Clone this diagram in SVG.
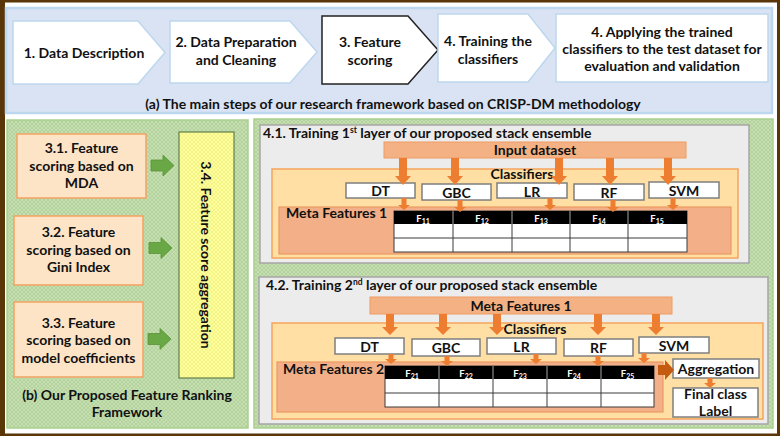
<svg xmlns="http://www.w3.org/2000/svg" xmlns:xlink="http://www.w3.org/1999/xlink" width="780" height="436" viewBox="0 0 780 436">
<defs>
<style>
text{font-family:Lato,"Liberation Sans",sans-serif;font-weight:bold;fill:#111;}
.c{text-anchor:middle;}
.t14{font-size:14px;}
.t13{font-size:13px;}
.chev{fill:#fff;stroke:#bdd7ee;stroke-width:1.5;}
.obox{fill:#fde4c6;stroke:#f4a261;stroke-width:1.5;}
.gray{fill:#ececec;stroke:#a6a6a6;stroke-width:1.5;}
.bar{fill:#f4b183;stroke:#ee9c64;stroke-width:1;}
.cls{fill:#ffdfa3;stroke:#f5a45d;stroke-width:1.5;}
.meta{fill:#f3b088;stroke:#ec9a62;stroke-width:1.2;}
.wbox{fill:#fff;stroke:#7f7f7f;stroke-width:1.5;}
.hdr{fill:#000;}
.cell{fill:#fff;stroke:#3a3a3a;stroke-width:1;}
.ln{stroke:#3a3a3a;stroke-width:1;}
.hl{fill:#fff;font-size:9.5px;}
.arr{fill:#ed7d31;}
.garr{fill:#6aa846;stroke:#5a9238;stroke-width:0.8;}
</style>
<pattern id="gh" width="4" height="4" patternUnits="userSpaceOnUse"><rect width="4" height="4" fill="#c6dfb2"/><path d="M0,4 L4,0 M0,0 L4,4" stroke="#b0cf97" stroke-width="0.8"/></pattern>
<pattern id="yh" width="4" height="4" patternUnits="userSpaceOnUse"><rect width="4" height="4" fill="#ffff9c"/><path d="M0,4 L4,0 M0,0 L4,4" stroke="#eeee80" stroke-width="0.7"/></pattern>
<path id="big1" d="M-4 0 h8 v18 h4 l-8 9 l-8 -9 h4 z"/>
<path id="big2" d="M-4 0 h8 v13 h4 l-8 8 l-8 -8 h4 z"/>
<path id="sm" d="M-2.5 0 h5 v7 h3.5 l-6 5 l-6 -5 h3.5 z"/>
<path id="sm2" d="M-2.5 0 h5 v5 h3.5 l-6 5 l-6 -5 h3.5 z"/>
<path id="garrow" d="M0 -5.5 h12 v-5 l11 10.5 l-11 10.5 v-5 h-12 z"/>
</defs>

<rect x="0" y="0" width="780" height="436" fill="#fff"/>
<rect x="2.5" y="1" width="776" height="434" fill="none" stroke="#5a3508" stroke-width="3"/>
<rect x="0" y="0" width="5" height="436" fill="#5a3508"/>

<!-- (a) top panel -->
<g id="panel-a">
<rect x="6" y="8" width="766" height="105" fill="#dae3f3" stroke="#bdd7ee" stroke-width="2.5"/>
<text class="c t14" x="393" y="109">(a)  The main steps of our research framework based on CRISP-DM methodology</text>
</g>
<g id="step1">
<polygon class="chev" points="13,21 138,21 165,52.5 138,84 13,84"/>
<text class="c t14" x="84" y="58">1. Data Description</text>
</g>
<g id="step2">
<polygon class="chev" points="170,21 290,21 317,52 290,83 170,83"/>
<text class="c t14" x="236" y="47">2. Data Preparation</text>
<text class="c t14" x="236" y="65">and Cleaning</text>
</g>
<g id="step3">
<polygon points="322,16 408,16 438,50 408,84 322,84" fill="#fff" stroke="#222" stroke-width="1.5"/>
<text class="c t14" x="370" y="47">3. Feature</text>
<text class="c t14" x="370" y="65">scoring</text>
</g>
<g id="step4">
<polygon class="chev" points="438,14 528,14 555,48 528,82 438,82"/>
<text class="c t14" x="488" y="46">4. Training the</text>
<text class="c t14" x="488" y="64">classifiers</text>
</g>
<g id="step5">
<rect class="chev" x="556" y="14" width="212" height="68"/>
<text class="c t14" x="662" y="37">4. Applying the trained</text>
<text class="c t14" x="662" y="54">classifiers to the test dataset for</text>
<text class="c t14" x="662" y="71">evaluation and validation</text>
</g>

<!-- (b) left panel -->
<g id="panel-b">
<rect x="7" y="120" width="241" height="308" fill="url(#gh)" stroke="#a9d08e" stroke-width="1.5"/>
<text class="c t14" x="127" y="400">(b) Our Proposed Feature Ranking</text>
<text class="c t14" x="127" y="417">Framework</text>
</g>
<g id="fs31">
<rect class="obox" x="17" y="134" width="129" height="64"/>
<text class="c t14" x="81.5" y="153">3.1. Feature</text>
<text class="c t14" x="81.5" y="171">scoring based on</text>
<text class="c t14" x="81.5" y="188">MDA</text>
</g>
<g id="fs32">
<rect class="obox" x="14" y="216" width="129" height="69"/>
<text class="c t14" x="78.5" y="237">3.2. Feature</text>
<text class="c t14" x="78.5" y="255">scoring based on</text>
<text class="c t14" x="78.5" y="272">Gini Index</text>
</g>
<g id="fs33">
<rect class="obox" x="14" y="302" width="129" height="75"/>
<text class="c t14" x="78.5" y="328">3.3. Feature</text>
<text class="c t14" x="78.5" y="345">scoring based on</text>
<text class="c t14" x="78.5" y="363">model coefficients</text>
</g>
<g id="fs34">
<rect x="179" y="132" width="55" height="246" fill="url(#yh)" stroke="#4b6a38" stroke-width="1"/>
<text class="c t14" transform="translate(201,255) rotate(90)" x="0" y="0">3.4. Feature score aggregation</text>
</g>

<!-- right panel -->
<g id="panel-right">
<rect x="254" y="119" width="519" height="309" fill="url(#gh)" stroke="#a9d08e" stroke-width="1.5"/>
</g>

<!-- layer 1 -->
<g id="layer1">
<rect class="gray" x="260" y="125" width="489" height="138"/>
<text class="t14" x="263" y="138">4.1. Training 1<tspan font-size="8.5" baseline-shift="super">st</tspan> layer of our proposed stack ensemble</text>
</g>
<g id="input-dataset">
<rect class="bar" x="384" y="142" width="302" height="16"/>
<text class="c t14" x="535" y="155">Input dataset</text>
</g>
<g id="classifiers1">
<rect class="cls" x="272" y="169" width="466" height="89"/>
<text class="c t14" x="522" y="179">Classifiers</text>
</g>
<g id="meta1-panel">
<rect class="meta" x="279" y="207" width="452" height="47"/>
<text class="t14" x="286" y="218">Meta Features 1</text>
<rect class="cell" x="394" y="211" width="293" height="41"/>
<rect class="hdr" x="394" y="211" width="293" height="13"/>
<line class="ln" x1="394" y1="238" x2="687" y2="238"/>
<line class="ln" x1="453" y1="211" x2="453" y2="252"/>
<line class="ln" x1="512" y1="211" x2="512" y2="252"/>
<line class="ln" x1="570" y1="211" x2="570" y2="252"/>
<line class="ln" x1="628" y1="211" x2="628" y2="252"/>
<line x1="453" y1="211" x2="453" y2="224" stroke="#888" stroke-width="1"/>
<line x1="512" y1="211" x2="512" y2="224" stroke="#888" stroke-width="1"/>
<line x1="570" y1="211" x2="570" y2="224" stroke="#888" stroke-width="1"/>
<line x1="628" y1="211" x2="628" y2="224" stroke="#888" stroke-width="1"/>
<text class="c hl" x="423" y="222">F<tspan font-size="7" dy="2">11</tspan></text>
<text class="c hl" x="482" y="222">F<tspan font-size="7" dy="2">12</tspan></text>
<text class="c hl" x="541" y="222">F<tspan font-size="7" dy="2">13</tspan></text>
<text class="c hl" x="599" y="222">F<tspan font-size="7" dy="2">14</tspan></text>
<text class="c hl" x="657" y="222">F<tspan font-size="7" dy="2">15</tspan></text>
</g>
<g id="dt1"><rect class="wbox" x="346" y="183" width="69" height="15"/><text class="c t14" x="380.5" y="196">DT</text></g>
<g id="gbc1"><rect class="wbox" x="422" y="184" width="69" height="16"/><text class="c t14" x="456.5" y="197.5">GBC</text></g>
<g id="lr1"><rect class="wbox" x="497" y="183" width="70" height="15"/><text class="c t14" x="532" y="196.5">LR</text></g>
<g id="rf1"><rect class="wbox" x="574" y="184" width="70" height="16"/><text class="c t14" x="609" y="197.5">RF</text></g>
<g id="svm1"><rect class="wbox" x="649" y="182" width="70" height="16"/><text class="c t14" x="684" y="195.5">SVM</text></g>

<!-- layer 2 -->
<g id="layer2">
<rect class="gray" x="259" y="277" width="509" height="147"/>
<text class="t14" x="266" y="290">4.2. Training 2<tspan font-size="8.5" baseline-shift="super">nd</tspan> layer of our proposed stack ensemble</text>
</g>
<g id="meta-input">
<rect class="bar" x="370" y="297" width="302" height="17"/>
<text class="c t14" x="521" y="311">Meta Features 1</text>
</g>
<g id="classifiers2">
<rect class="cls" x="272" y="323" width="491" height="96"/>
<text class="c t14" x="535" y="334">Classifiers</text>
</g>
<g id="meta2-panel">
<rect class="meta" x="277" y="362" width="386" height="50"/>
<text class="t14" x="283" y="374">Meta Features 2</text>
<rect class="cell" x="385" y="366" width="269" height="41"/>
<rect class="hdr" x="385" y="366" width="269" height="13"/>
<line class="ln" x1="385" y1="393" x2="654" y2="393"/>
<line class="ln" x1="439" y1="366" x2="439" y2="407"/>
<line class="ln" x1="493" y1="366" x2="493" y2="407"/>
<line class="ln" x1="547" y1="366" x2="547" y2="407"/>
<line class="ln" x1="601" y1="366" x2="601" y2="407"/>
<line x1="439" y1="366" x2="439" y2="379" stroke="#888" stroke-width="1"/>
<line x1="493" y1="366" x2="493" y2="379" stroke="#888" stroke-width="1"/>
<line x1="547" y1="366" x2="547" y2="379" stroke="#888" stroke-width="1"/>
<line x1="601" y1="366" x2="601" y2="379" stroke="#888" stroke-width="1"/>
<text class="c hl" x="412" y="377">F<tspan font-size="7" dy="2">21</tspan></text>
<text class="c hl" x="466" y="377">F<tspan font-size="7" dy="2">22</tspan></text>
<text class="c hl" x="520" y="377">F<tspan font-size="7" dy="2">23</tspan></text>
<text class="c hl" x="574" y="377">F<tspan font-size="7" dy="2">24</tspan></text>
<text class="c hl" x="627.5" y="377">F<tspan font-size="7" dy="2">25</tspan></text>
</g>
<g id="dt2"><rect class="wbox" x="335" y="338" width="69" height="16"/><text class="c t14" x="369.5" y="351.5">DT</text></g>
<g id="gbc2"><rect class="wbox" x="412" y="339" width="68" height="17"/><text class="c t14" x="446" y="353">GBC</text></g>
<g id="lr2"><rect class="wbox" x="487" y="338" width="69" height="16"/><text class="c t14" x="521.5" y="351.5">LR</text></g>
<g id="rf2"><rect class="wbox" x="564" y="339" width="69" height="17"/><text class="c t14" x="598.5" y="353">RF</text></g>
<g id="svm2"><rect class="wbox" x="639" y="337" width="70" height="16"/><text class="c t14" x="674" y="350.5">SVM</text></g>
<g id="aggregation"><rect class="wbox" x="673" y="359" width="86" height="19"/><text class="c t14" x="716" y="374">Aggregation</text></g>
<g id="final-label"><rect class="wbox" x="673" y="388" width="85" height="29"/><text class="c t14" x="715.5" y="399">Final class</text><text class="c t14" x="715.5" y="416">Label</text></g>

<!-- connectors -->
<g id="connectors">
<use href="#garrow" x="151" y="165.5" class="garr"/>
<use href="#garrow" x="149" y="248" class="garr"/>
<use href="#garrow" x="148" y="339" class="garr"/>

<use href="#big1" x="403" y="158" class="arr"/>
<use href="#big1" x="455" y="158" class="arr"/>
<use href="#big1" x="559" y="158" class="arr"/>
<use href="#big1" x="610" y="158" class="arr"/>
<use href="#big1" x="668" y="158" class="arr"/>

<use href="#sm" x="404" y="198" class="arr"/>
<use href="#sm" x="460" y="200" class="arr"/>
<use href="#sm" x="550" y="198" class="arr"/>
<use href="#sm" x="613" y="200" class="arr"/>
<use href="#sm" x="673" y="198" class="arr"/>

<use href="#big2" x="390" y="314" class="arr"/>
<use href="#big2" x="443" y="314" class="arr"/>
<use href="#big2" x="497" y="314" class="arr"/>
<use href="#big2" x="598" y="314" class="arr"/>
<use href="#big2" x="656" y="314" class="arr"/>

<use href="#sm2" x="391" y="354" class="arr"/>
<use href="#sm2" x="447" y="356" class="arr"/>
<use href="#sm2" x="536" y="354" class="arr"/>
<use href="#sm2" x="598" y="356" class="arr"/>
<use href="#sm2" x="644" y="353" class="arr"/>

<path d="M658 365 h7 v-5 l9 10 l-9 10 v-5 h-7 z" fill="#c55a11"/>
<use href="#sm2" x="710" y="378" class="arr"/>
</g>
</svg>
